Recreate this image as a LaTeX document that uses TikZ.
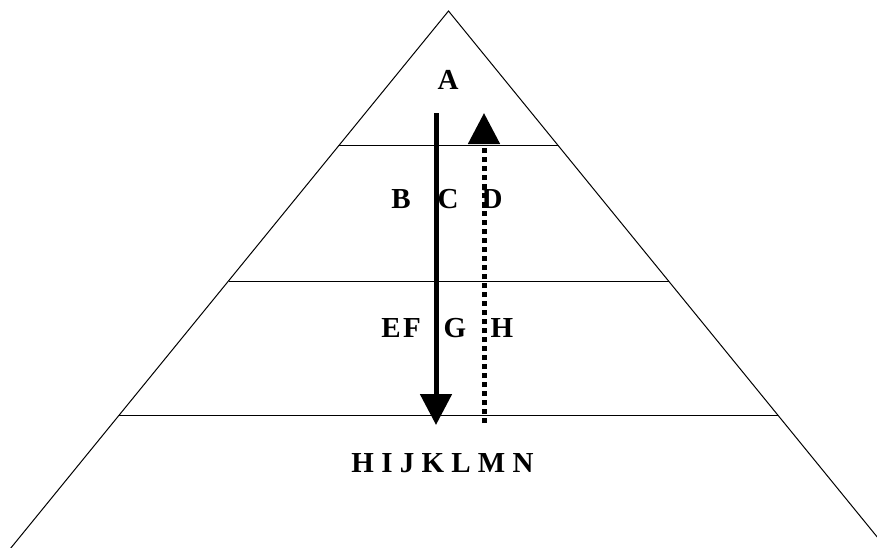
\documentclass[tikz,border=0pt]{standalone}
\usepackage{fontspec}
\setmainfont{Liberation Serif}
\usetikzlibrary{arrows.meta}

\begin{document}
\begin{tikzpicture}[
  x=1pt, y=-1pt,
  edge/.style={line width=1pt},
  lab/.style={font=\fontsize{29}{34}\selectfont\bfseries, inner sep=0pt, anchor=base},
  flow/.style={-{Triangle[width=31pt,length=31pt]}, line width=5pt},
  back/.style={flow, dash pattern=on 5pt off 4pt}
]
  \useasboundingbox (0,0) rectangle (877,547);
  \clip (0,0) rectangle (877,547);

  % pyramid
  \coordinate (apex) at (448.5,11);
  \coordinate (bl) at (8.4,551);
  \coordinate (br) at (888.6,551);
  \draw[edge] (bl) -- (apex) -- (br);

  % levels
  \coordinate (l1) at (339.3,145);  \coordinate (r1) at (557.7,145);
  \coordinate (l2) at (228.5,281);  \coordinate (r2) at (668.5,281);
  \coordinate (l3) at (119.3,415);  \coordinate (r3) at (777.7,415);
  \draw[edge] (l1) -- (r1);
  \draw[edge] (l2) -- (r2);
  \draw[edge] (l3) -- (r3);

  % labels
  \node[lab] (a) at (448,89) {A};
  \node[lab] (b) at (401,208) {B};
  \node[lab] (c) at (448,208) {C};
  \node[lab] (d) at (492,208) {D};
  \node[lab] (e) at (391,337) {E};
  \node[lab] (f) at (412,337) {F};
  \node[lab] (g) at (455,337) {G};
  \node[lab] (h) at (502,337) {H};
  \node[lab] (base) at (442.5,472) {H I J K L M N};

  % arrows
  \coordinate (downtop) at (436,113);
  \coordinate (downend) at (436,425);
  \coordinate (upstart) at (484,423);
  \coordinate (upend) at (484,113);
  \draw[flow] (downtop) -- (downend);
  \draw[back] (upstart) -- (upend);
\end{tikzpicture}
\end{document}
